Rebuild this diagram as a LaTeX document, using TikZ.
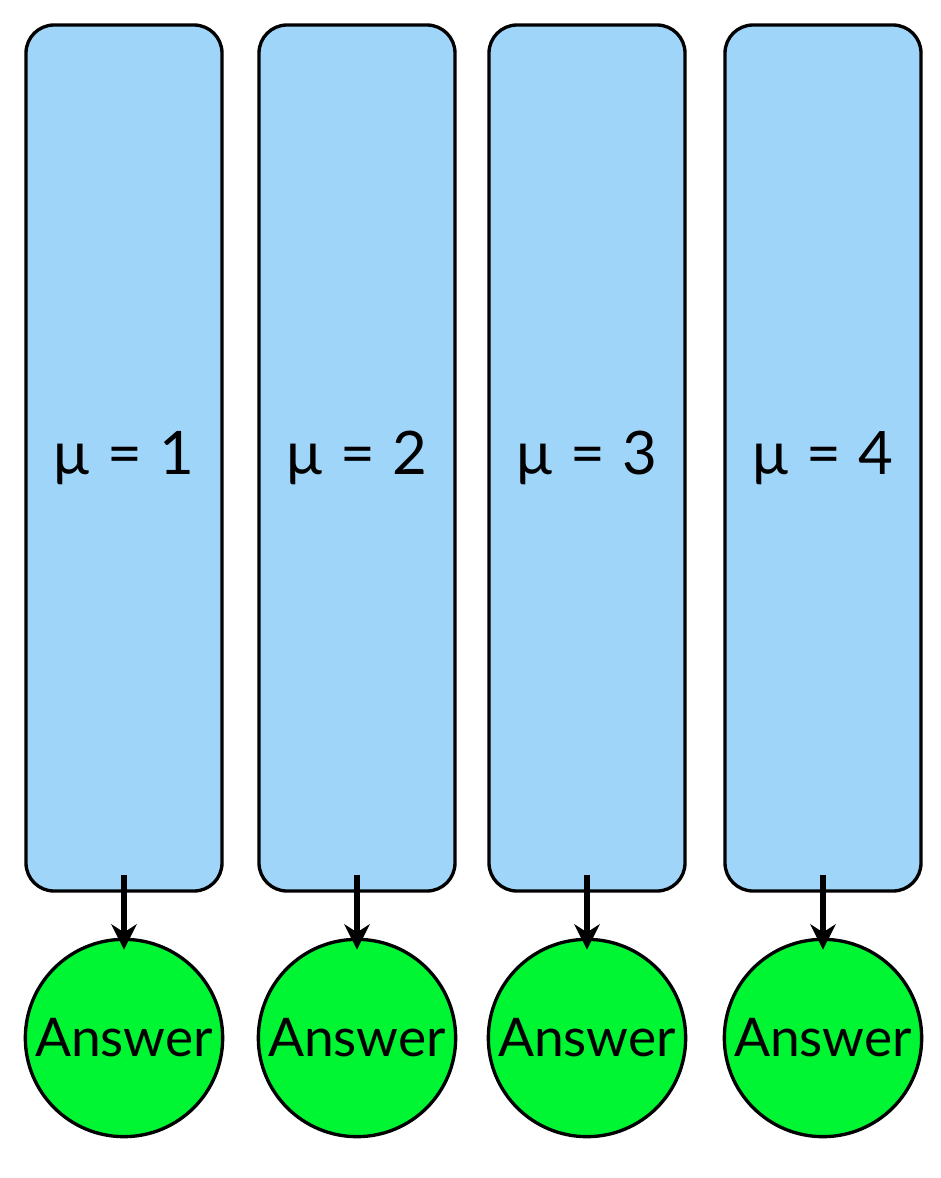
\documentclass[tikz,border=0pt]{standalone}
\usepackage{fontspec}
\setmainfont{Lato}
\usetikzlibrary{arrows.meta}
\definecolor{mublue}{RGB}{160,213,250}
\definecolor{answergreen}{RGB}{0,245,50}
\newcommand{\muspace}{\hspace{0.3em}}
\tikzset{
  mubox/.style={draw, line width=2.5pt, fill=mublue, rounded corners=21pt,
    minimum width=147pt, minimum height=649.5pt, inner sep=0pt,
    font=\fontsize{45}{54}\selectfont},
  answer/.style={circle, draw, line width=2.5pt, fill=answergreen,
    minimum size=148pt, inner sep=0pt, font=\fontsize{40}{48}\selectfont},
  feed/.style={line width=4pt, -{Stealth[length=19pt,width=19pt,inset=6pt]}}
}
\begin{document}
\begin{tikzpicture}[x=0.75pt,y=-0.75pt]
\useasboundingbox (0,0) rectangle (940,1178);

% one column per value of mu
\foreach \i/\xc in {1/124, 2/357, 3/587, 4/823}
{
\node[mubox] (box\i) at (\xc,458) {μ\muspace=\muspace\i};
\node[answer] (ans\i) at (\xc,1038) {Answer};
\draw[feed] ([yshift=13.5pt]box\i.south) -- ([yshift=-9pt]ans\i.north);
}
\end{tikzpicture}
\end{document}
